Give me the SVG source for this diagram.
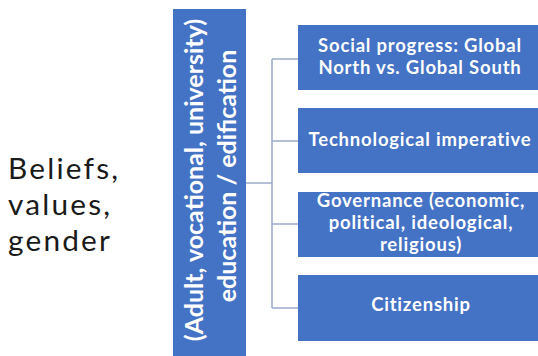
<svg xmlns="http://www.w3.org/2000/svg" width="538" height="356" viewBox="0 0 538 356">
  <style>
    .box { fill: #4472C4; }
    .lbl { font-family: Lato, "Open Sans", "Liberation Sans", sans-serif; font-weight: bold; fill: #ffffff; text-anchor: middle; }
    .item { font-size: 18.5px; letter-spacing: 0.8px; }
    .vert { font-size: 25px; }
    .side { font-family: Lato, "Open Sans", "Liberation Sans", sans-serif; font-size: 29.8px; letter-spacing: 2.2px; fill: #1a1a1a; }
    .wire { stroke: #9AAAC9; stroke-width: 1.5; fill: none; }
  </style>
  <rect width="538" height="356" fill="#ffffff"/>

  <g id="context">
    <text class="side" x="8" y="178.5">Beliefs,<tspan x="8" dy="36">values,</tspan><tspan x="8" dy="36">gender</tspan></text>
  </g>

  <g id="connectors">
    <path class="wire" d="M245 183 H272 M272 59 V308 M272 59 H299 M272 141 H299 M272 224 H299 M272 308 H299"/>
  </g>

  <g id="education">
    <rect class="box" x="173" y="9" width="73" height="347"/>
    <text class="lbl vert" transform="translate(203 180) rotate(-90)">(Adult, vocational, university)</text>
    <text class="lbl vert" transform="translate(236 176) rotate(-90)">education / edification</text>
  </g>

  <g id="social-progress">
    <rect class="box" x="298" y="25" width="240" height="65"/>
    <text class="lbl item" x="420" y="52">Social progress: Global<tspan x="420" dy="22">North vs. Global South</tspan></text>
  </g>

  <g id="technology">
    <rect class="box" x="298" y="108" width="240" height="65"/>
    <text class="lbl item" x="420" y="146">Technological imperative</text>
  </g>

  <g id="governance">
    <rect class="box" x="298" y="192" width="240" height="65"/>
    <text class="lbl item" x="421" y="207">Governance (economic,<tspan x="421" dy="22">political, ideological,</tspan><tspan x="421" dy="22">religious)</tspan></text>
  </g>

  <g id="citizenship">
    <rect class="box" x="298" y="275" width="240" height="66"/>
    <text class="lbl item" x="421" y="311">Citizenship</text>
  </g>
</svg>
